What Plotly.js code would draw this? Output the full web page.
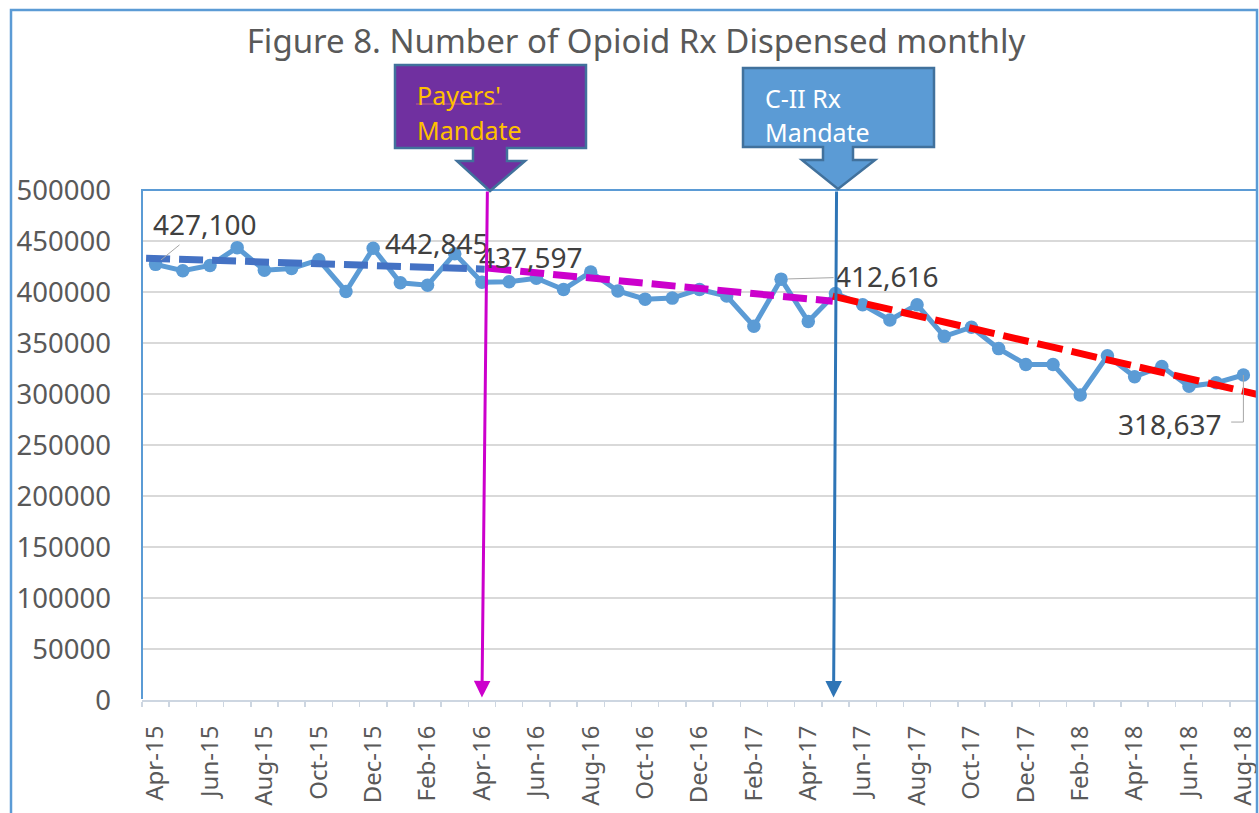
<!DOCTYPE html>
<html>
<head>
<meta charset="utf-8">
<script src="https://cdn.plot.ly/plotly-3.0.1.min.js"></script>
<style>html,body{margin:0;padding:0;background:#fff;}#chart{width:1259px;height:813px;}</style>
</head>
<body>
<div id="chart"></div>
<script>
// ---- data ----
const months = ['Apr-15','May-15','Jun-15','Jul-15','Aug-15','Sep-15','Oct-15','Nov-15','Dec-15',
  'Jan-16','Feb-16','Mar-16','Apr-16','May-16','Jun-16','Jul-16','Aug-16','Sep-16','Oct-16','Nov-16','Dec-16',
  'Jan-17','Feb-17','Mar-17','Apr-17','May-17','Jun-17','Jul-17','Aug-17','Sep-17','Oct-17','Nov-17','Dec-17',
  'Jan-18','Feb-18','Mar-18','Apr-18','May-18','Jun-18','Jul-18','Aug-18'];
const rxDispensed = [427100, 420800, 426000, 443500, 421400, 423000, 431500, 400500, 442845,
  409000, 406700, 437597, 409600, 410000, 413500, 402500, 419500, 401000, 393000, 394000, 402500,
  396000, 366500, 412616, 371000, 398500, 387500, 372500, 387500, 356500, 365500, 344500, 329000,
  329000, 299000, 337500, 317000, 327000, 307500, 311000, 318637];
// trend segments (month index position, value)
const trendBeforeX = [-0.35, 12.1];
const trendBeforeY = [433200, 422400];
const trendPayersX = [12.2, 24.9];
const trendPayersY = [423400, 391000];
const trendCIIX = [24.9, 40.5];
const trendCIIY = [395900, 299600];
const labeledMonths = [0, 8, 11, 23, 40];
const mandateNames = ["Payers'", 'Mandate', 'C-II Rx', 'Mandate'];
const payersMandateIdx = 12;   // Apr-16
const ciiMandateIdx = 25;      // May-17

// ---- layout helpers ----
const W = 1259, H = 813;
const PL = 142, PR = 1257, PT = 190, PB = 700;
const px = v => (v - PL) / (PR - PL);
const py = v => (PB - v) / (PB - PT);

const xIdx = months.map((m, i) => i);
const tickIdx = xIdx.filter(i => i % 2 === 0);
const fmt = v => v.toLocaleString('en-US');

const traces = [
  {x: xIdx, y: rxDispensed, type: 'scatter', mode: 'lines+markers',
   line: {color: '#5B9BD5', width: 5}, marker: {color: '#5B9BD5', size: 13.5},
   hoverinfo: 'skip', showlegend: false},
  {x: trendBeforeX, y: trendBeforeY, type: 'scatter', mode: 'lines',
   line: {color: '#4472C4', width: 7, dash: '24px,9px'}, hoverinfo: 'skip', showlegend: false},
  {x: trendPayersX, y: trendPayersY, type: 'scatter', mode: 'lines',
   line: {color: '#CC00CC', width: 7, dash: '24px,9px'}, hoverinfo: 'skip', showlegend: false},
  {x: trendCIIX, y: trendCIIY, type: 'scatter', mode: 'lines',
   line: {color: '#FF0000', width: 7, dash: '26px,9px'}, hoverinfo: 'skip', showlegend: false}
];

const labelFont = {family: 'Noto Sans', size: 28, color: '#404040'};
const labelPlacement = [
  {arrow: true, ax: 49, ay: -40},
  {arrow: false, xs: 64, ys: 5},
  {arrow: false, xs: 76, ys: -3},
  {arrow: true, ax: 106, ay: -3},
  {arrow: false, xs: -73, ys: -49}
];
const annotations = labeledMonths.map((i, k) => {
  const p = labelPlacement[k];
  const a = {x: i, y: rxDispensed[i], xref: 'x', yref: 'y', text: fmt(rxDispensed[i]), font: labelFont};
  if (p.arrow) {
    Object.assign(a, {showarrow: true, arrowhead: 0, arrowwidth: 1, arrowcolor: '#A6A6A6', ax: p.ax, ay: p.ay, standoff: 7});
  } else {
    Object.assign(a, {showarrow: false, xshift: p.xs, yshift: p.ys});
  }
  return a;
});

// callout texts
const calloutFont1 = {family: 'Noto Sans', size: 25, color: '#FFC000'};
const calloutFont2 = {family: 'Noto Sans', size: 25, color: '#FFFFFF'};
annotations.push(
  {xref: 'paper', yref: 'paper', x: px(415), y: py(95), xanchor: 'left', yanchor: 'middle', text: mandateNames[0], showarrow: false, font: calloutFont1},
  {xref: 'paper', yref: 'paper', x: px(415), y: py(130), xanchor: 'left', yanchor: 'middle', text: mandateNames[1], showarrow: false, font: calloutFont1},
  {xref: 'paper', yref: 'paper', x: px(763), y: py(98), xanchor: 'left', yanchor: 'middle', text: mandateNames[2], showarrow: false, font: calloutFont2},
  {xref: 'paper', yref: 'paper', x: px(763), y: py(132), xanchor: 'left', yanchor: 'middle', text: mandateNames[3], showarrow: false, font: calloutFont2}
);
// vertical mandate arrows
annotations.push(
  {x: payersMandateIdx, y: 2500, xref: 'x', yref: 'y', axref: 'x', ayref: 'y', ax: payersMandateIdx + 0.2, ay: 500000,
   text: '', showarrow: true, arrowhead: 2, arrowsize: 1.1, arrowwidth: 3, arrowcolor: '#CC00CC', standoff: 0},
  {x: ciiMandateIdx - 0.07, y: 2500, xref: 'x', yref: 'y', axref: 'x', ayref: 'y', ax: ciiMandateIdx + 0.04, ay: 500000,
   text: '', showarrow: true, arrowhead: 2, arrowsize: 1.1, arrowwidth: 3, arrowcolor: '#2E75B6', standoff: 0}
);

function poly(pts) {
  return 'M' + pts.map(p => px(p[0]) + ',' + py(p[1])).join(' L') + ' Z';
}
const shapes = [
  // outer chart border
  {type: 'path', xref: 'paper', yref: 'paper', layer: 'above',
   path: `M${px(11)},${py(840)} L${px(11)},${py(10)} L${px(1257)},${py(10)} L${px(1257)},${py(840)}`,
   line: {color: '#5B9BD5', width: 2.5}},
  // plot area border (left, top, right)
  {type: 'path', xref: 'paper', yref: 'paper', layer: 'above',
   path: `M${px(142)},${py(699)} L${px(142)},${py(190)} L${px(1257)},${py(190)} L${px(1257)},${py(699)}`,
   line: {color: '#5B9BD5', width: 2}},
  // Payers' callout
  {type: 'path', xref: 'paper', yref: 'paper', layer: 'above',
   path: poly([[395,65],[586,65],[586,148],[507,148],[507,161],[525,161],[490,191],[457,161],[473,161],[473,148],[395,148]]),
   fillcolor: '#7030A0', line: {color: '#41719C', width: 2.5}},
  // C-II callout
  {type: 'path', xref: 'paper', yref: 'paper', layer: 'above',
   path: poly([[743,68],[934,68],[934,147],[853,147],[853,160],[875,160],[838,189],[802,160],[823,160],[823,147],[743,147]]),
   fillcolor: '#5B9BD5', line: {color: '#41719C', width: 2.5}},
  // underline under Payers'
  {type: 'line', xref: 'paper', yref: 'paper', layer: 'above',
   x0: px(416), x1: px(502), y0: py(104), y1: py(104), line: {color: '#C0608A', width: 1}},
  // elbow leader for last label
  {type: 'path', xref: 'x', yref: 'y', layer: 'above',
   path: `M${xIdx[40]},${rxDispensed[40]} L${xIdx[40]},272500 L${xIdx[40] - 0.45},272500`,
   line: {color: '#A6A6A6', width: 1}}
];

const layout = {
  width: W, height: H,
  margin: {l: PL, r: W - PR, t: PT, b: H - PB, pad: 0},
  paper_bgcolor: '#FFFFFF', plot_bgcolor: '#FFFFFF',
  font: {family: 'Noto Sans', color: '#595959'},
  showlegend: false,
  title: {text: 'Figure 8. Number of Opioid Rx Dispensed monthly',
          font: {family: 'Noto Sans', size: 33, color: '#595959'},
          xref: 'container', yref: 'container', x: 636 / W, y: 1 - 41 / H, xanchor: 'center', yanchor: 'middle'},
  xaxis: {range: [-0.5, 40.5], tickmode: 'array', tickvals: tickIdx, ticktext: tickIdx.map(i => months[i]),
          tickangle: -90, tickfont: {family: 'Noto Sans', size: 24, color: '#595959'},
          showgrid: false, zeroline: false, showline: true, linecolor: '#CDD6E1', linewidth: 2,
          ticks: '', ticklabelstandoff: 14, automargin: false, fixedrange: true,
          minor: {tickmode: 'array', tickvals: months.map((m, i) => i - 0.5).concat([40.5]),
                  ticks: 'outside', ticklen: 5, tickwidth: 1.5, tickcolor: '#CDD6E1', showgrid: false}},
  yaxis: {range: [0, 500000], tickmode: 'linear', tick0: 0, dtick: 50000, tickformat: 'd',
          tickfont: {family: 'Noto Sans', size: 27.5, color: '#595959'},
          showgrid: true, gridcolor: '#D9D9D9', gridwidth: 1.5, zeroline: false, showline: false,
          ticks: '', ticklabelstandoff: 30, automargin: false, fixedrange: true},
  annotations: annotations,
  shapes: shapes
};

Plotly.newPlot('chart', traces, layout, {displayModeBar: false, staticPlot: true});
</script>
</body>
</html>
